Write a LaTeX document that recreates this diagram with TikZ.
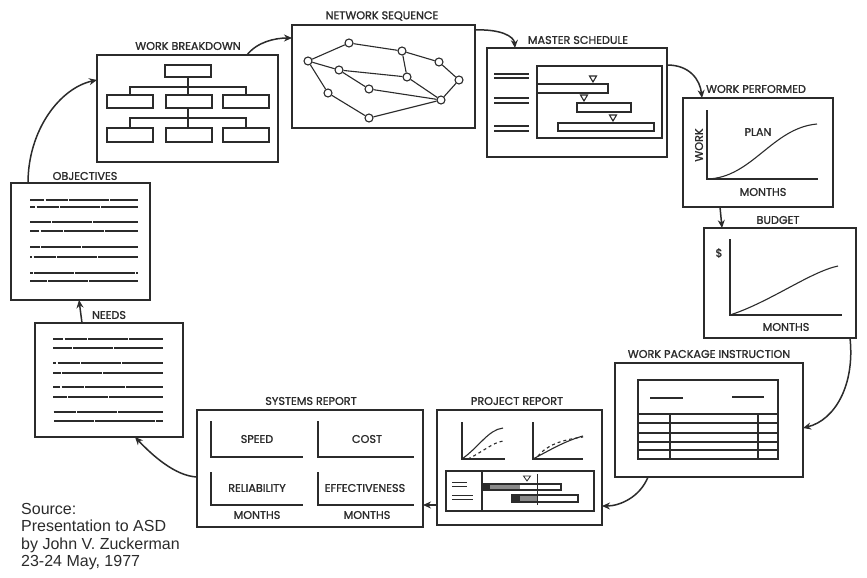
\documentclass[tikz,border=0pt]{standalone}
\usepackage{fontspec}
\setmainfont{Liberation Sans}
\newfontfamily\labfont[BoldFont={Poppins}, BoldFeatures={FakeBold=1.3}]{Poppins}
\usetikzlibrary{arrows.meta,calc}
\definecolor{ink}{HTML}{2B2B2B}
\newcommand{\mytri}[2]{\draw[thin line] (#1-3.5,#2) -- (#1+3.5,#2) -- (#1,#2+6) -- cycle;}
\begin{document}
\begin{tikzpicture}[x=1pt,y=-1pt,
  box/.style={draw=ink, line width=1.9pt, inner sep=0pt, outer sep=0pt},
  lab/.style={font=\labfont\bfseries\fontsize{11.2}{12}\selectfont, text=ink, inner sep=0pt},
  thin line/.style={draw=ink, line width=1.1pt},
  txtline/.style={draw=ink, line width=1.3pt, dash pattern=on 14pt off 1.5pt on 22pt off 1.5pt on 40pt off 1pt on 60pt off 1pt, dash phase=#1},
  arr/.style={draw=ink, line width=1.5pt, -{Stealth[length=8pt,width=7pt]}},
  nd/.style={circle, draw=ink, line width=1.1pt, fill=white, minimum size=8pt, inner sep=0pt}]
\useasboundingbox (0,0) rectangle (867,578);
\fill[white] (0,0) rectangle (867,578);

% ---------- boxes ----------
\node[box, minimum width=139pt, minimum height=117pt] (obj)   at (80.5,241.5) {};
\node[box, minimum width=181pt, minimum height=107pt] (wb)    at (187.5,108.5) {};
\node[box, minimum width=183pt, minimum height=103pt] (net)   at (383.5,76.5) {};
\node[box, minimum width=180pt, minimum height=109pt] (ms)    at (577,102.5) {};
\node[box, minimum width=150pt, minimum height=109pt] (wp)    at (758,152.5) {};
\node[box, minimum width=152pt, minimum height=110pt] (bud)   at (780,283) {};
\node[box, minimum width=188pt, minimum height=114pt] (wpi)   at (709,420) {};
\node[box, minimum width=165pt, minimum height=115pt] (pr)    at (519.5,467.5) {};
\node[box, minimum width=226pt, minimum height=117pt] (sr)    at (310,468.5) {};
\node[box, minimum width=148pt, minimum height=114pt] (needs) at (109,380) {};

% ---------- labels ----------
\node[lab] (lobj) at (85,176) {OBJECTIVES};
\node[lab] (lwb) at (188,46) {WORK BREAKDOWN};
\node[lab] (lnet) at (382,16) {NETWORK SEQUENCE};
\node[lab] (lms) at (578,40) {MASTER SCHEDULE};
\node[lab] (lwp) at (756,89) {WORK PERFORMED};
\node[lab] (lbud) at (778,220) {BUDGET};
\node[lab] (lwpi) at (709,354) {WORK PACKAGE INSTRUCTION};
\node[lab] (lpr) at (517,401) {PROJECT REPORT};
\node[lab] (lsr) at (311,401) {SYSTEMS REPORT};
\node[lab] (lneeds) at (109,315) {NEEDS};

% ---------- objectives text ----------
\foreach \y/\ph in {200/0,207/9,222/17,231/5,247/28,257/12,273/35,281/21} \draw[txtline=\ph] (30,\y) -- (138,\y);
% ---------- needs text ----------
\foreach \y/\ph in {339/4,348/19,363/11,373/30,387/7,397/24,412/15,421/38} \draw[txtline=\ph] (53,\y) -- (163,\y);

% ---------- work breakdown ----------
\draw[thin line] (165,65) rectangle (211,77);
\draw[thin line] (188,77) -- (188,95);
\draw[thin line] (130,95) -- (130,87) -- (246,87) -- (246,95);
\foreach \a in {107,166,223} \draw[thin line] (\a,95) rectangle (\a+46,108);
\draw[thin line] (188,108) -- (188,128);
\draw[thin line] (130,128) -- (130,118) -- (246,118) -- (246,128);
\foreach \a in {107,166,223} \draw[thin line] (\a,128) rectangle (\a+46,142);

% ---------- network ----------
\node[nd] (nA) at (308,61) {};
\node[nd] (nB) at (349,43) {};
\node[nd] (nC) at (402,51) {};
\node[nd] (nD) at (439,62) {};
\node[nd] (nE) at (459,80) {};
\node[nd] (nF) at (339,70) {};
\node[nd] (nG) at (407,77) {};
\node[nd] (nH) at (369,89) {};
\node[nd] (nI) at (441,100) {};
\node[nd] (nJ) at (328,93) {};
\node[nd] (nK) at (369,118) {};
\foreach \p/\q in {nA/nB,nB/nC,nC/nD,nD/nE,nE/nI,nA/nF,nF/nG,nG/nC,nG/nI,nF/nH,nH/nI,nA/nJ,nJ/nK,nK/nI}
  \draw[thin line] (\p) -- (\q);

% ---------- master schedule ----------
\draw[thin line] (537,66) rectangle (662,138);
\foreach \y in {74,78,98,103,126,131} \draw[thin line] (494,\y) -- (529,\y);
\draw[thin line] (537,84) rectangle (608,93);
\draw[thin line] (577,103) rectangle (631,112);
\draw[thin line] (558,123) rectangle (654,131);
\mytri{593}{76}
\mytri{584}{95}
\mytri{613}{115}

% ---------- work performed ----------
\draw[thin line] (707,110) -- (707,179) -- (818,179);
\draw[thin line] (707,179) .. controls (752,178) and (772,128) .. (817,124);
\node[lab, rotate=90] (tw) at (699,145) {WORK};
\node[lab] (tplan) at (758,132) {PLAN};
\node[lab] (tm1) at (763,192) {MONTHS};

% ---------- budget ----------
\draw[thin line] (730,239) -- (730,315) -- (842,315);
\draw[thin line] (730,315) .. controls (770,302) and (810,272) .. (838,266);
\node[lab] (tdol) at (719,253) {\$};
\node[lab] (tm2) at (786,327) {MONTHS};

% ---------- work package instruction ----------
\draw[thin line] (638,380) rectangle (778,459);
\draw[ink, line width=1.8pt] (650,398) -- (683,398);
\draw[ink, line width=1.8pt] (732,397) -- (764,397);
\foreach \y in {414,423,433,442,450} \draw[thin line] (638,\y) -- (778,\y);
\draw[thin line] (670,414) -- (670,459);
\draw[thin line] (758,414) -- (758,459);

% ---------- project report ----------
\draw[thin line] (462,422) -- (462,459) -- (505,459);
\draw[thin line] (462,459) .. controls (480,446) and (488,430) .. (503,428);
\draw[thin line, dashed] (468,459) .. controls (484,451) and (492,443) .. (503,441);
\draw[thin line] (533,422) -- (533,459) -- (583,459);
\draw[thin line] (533,459) .. controls (550,450) and (565,441) .. (583,436);
\draw[thin line, dashed] (538,456) .. controls (546,446) and (560,440) .. (583,437);
\draw[thin line] (446,471) rectangle (594,511);
\draw[thin line] (482,471) -- (482,511);
\draw[ink, line width=0.8pt] (452,482) -- (467,482) (452,486) -- (467,486);
\draw[ink, line width=0.8pt] (452,495) -- (473,495) (452,499) -- (473,499);
\fill[ink!55] (482,484) rectangle (520,490);
\fill[ink] (482,484) rectangle (490,490);
\draw[thin line] (482,484) rectangle (561,490);
\fill[ink!55] (512,495) rectangle (538,502);
\fill[ink] (512,495) rectangle (520,502);
\draw[thin line] (512,495) rectangle (578,502);
\draw[ink, line width=0.8pt] (537,474) -- (537,505);
\draw[ink, line width=0.8pt] (523.5,476) -- (530.5,476) -- (527,481) -- cycle;

% ---------- systems report ----------
\draw[thin line] (211,421) -- (211,457) -- (303,457);
\draw[thin line] (318,421) -- (318,457) -- (414,457);
\draw[thin line] (211,472) -- (211,505) -- (303,505);
\draw[thin line] (318,472) -- (318,505) -- (414,505);
\node[lab] (tsp) at (257,439) {SPEED};
\node[lab] (tco) at (367,439) {COST};
\node[lab] (tre) at (257,488) {RELIABILITY};
\node[lab] (tef) at (365,488) {EFFECTIVENESS};
\node[lab] (tm3) at (257,515) {MONTHS};
\node[lab] (tm4) at (367,515) {MONTHS};

% ---------- connectors ----------
\draw[arr] ([xshift=17pt]obj.north west) .. controls (28,130) and (60,88) .. ([yshift=-25pt]wb.north west);
\draw[arr] ([xshift=-31pt]wb.north east) .. controls (257,42) and (275,38) .. ([yshift=-13pt]net.north west);
\draw[arr] ([yshift=-5pt]net.north east) .. controls (500,29) and (514,36) .. ([xshift=28pt]ms.north west);
\draw[arr] ([yshift=-17pt]ms.north east) .. controls (690,65) and (700,80) .. ([xshift=19pt]wp.north west);
\draw[arr] ([xshift=37pt]wp.south west) -- ([xshift=18pt]bud.north west);
\draw[arr] ([xshift=-6pt]bud.south east) .. controls (855,385) and (835,420) .. ([yshift=-65pt]wpi.north east);
\draw[arr] ([xshift=33pt]wpi.south west) .. controls (640,497) and (620,506) .. ([yshift=19pt]pr.south east);
\draw[arr] ([yshift=20pt]pr.south west) -- ([yshift=22pt]sr.south east);
\draw[arr] ([yshift=-67pt]sr.north west) .. controls (175,476) and (152,455) .. ([xshift=-48pt]needs.south east);
\draw[arr] ([xshift=47pt]needs.north west) -- ([xshift=68pt]obj.south west);

% ---------- source ----------
\node[anchor=north west, align=left, inner sep=0pt, text=ink,
      font=\fontsize{16}{17.5}\selectfont] (src) at (21,503)
  {Source:\\Presentation to ASD\\by John V. Zuckerman\\23-24 May, 1977};
\end{tikzpicture}
\end{document}
